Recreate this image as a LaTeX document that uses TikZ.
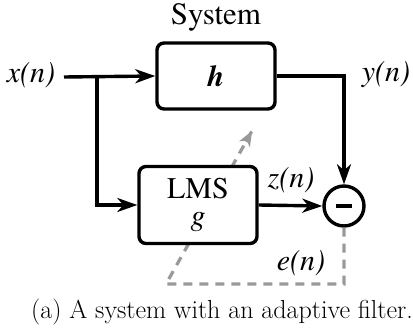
\documentclass[tikz,border=0pt]{standalone}
\usepackage{fontspec}
\usetikzlibrary{arrows.meta,calc}
\newfontfamily\diagfont{texgyretermes}[
  Extension=.otf,
  UprightFont=*-regular,
  ItalicFont=*-italic,
  BoldFont=*-bold,
  BoldItalicFont=*-bolditalic]
\begin{document}
\begin{tikzpicture}[x=1pt,y=-1pt,
  blk/.style={draw,line width=3.4pt,rounded corners=7pt,fill=white,inner sep=0pt},
  wire/.style={line width=3.4pt},
  sig/.style={wire,-{Stealth[length=20pt,width=14pt,inset=6pt]}},
  fb/.style={line width=3.2pt,draw=black!40,dash pattern=on 9pt off 7pt},
  lbl/.style={font=\diagfont\itshape\fontsize{30}{32}\selectfont,inner sep=0pt},
  ]
\useasboundingbox (0,0) rectangle (413,332);
% adaptation path (drawn first so the LMS block covers it)
\coordinate (ecorner) at (344,284);
\coordinate (dstart) at (166,284);
\coordinate (dtip) at (252,131);
% blocks
\node[blk,minimum width=118pt,minimum height=66pt] (h) at (216,76) {\diagfont\bfseries\itshape\fontsize{30}{32}\selectfont h};
\node[font=\diagfont\fontsize{31}{32}\selectfont,inner sep=0pt] (sys) at (216,17) {System};
\node[circle,draw,line width=3.4pt,minimum size=40pt,inner sep=0pt,fill=white] (sum) at (344,206) {};
\draw[line width=3.4pt] ([xshift=-8pt]sum.center) -- ([xshift=8pt]sum.center);
\draw[fb] (sum.south) -- (ecorner) -- (dstart) -- (dtip);
\draw[line width=3.2pt,draw=black!40,-{Stealth[length=15pt,width=12pt,inset=4pt]}] ($(dstart)!0.93!(dtip)$) -- (dtip);
\node[blk,minimum width=118pt,minimum height=77pt,align=center,font=\diagfont\fontsize{30}{29}\selectfont] (lms) at (198,205) {LMS\\[-2pt]{\itshape g}};
% labels
\node[lbl] (xin) at (31,75) {x(n)};
\node[lbl] (yout) at (386,75) {y(n)};
\node[lbl] (zl) at (291,180) {z(n)};
\node[lbl] (el) at (301,263) {e(n)};
\coordinate (src) at (64,77);
\coordinate (branch) at (97,77);
% connectors
\draw[sig] (src) -- (h.west);
\draw[sig] (branch) |- (lms.west);
\draw[sig] (h.east) -| (sum.north);
\draw[sig] (lms.east) -- (sum.west);
% caption
\node[font=\fontsize{26}{28}\selectfont,inner sep=0pt] (cap) at (222,312) {(a) A system with an adaptive filter.};
\end{tikzpicture}
\end{document}
